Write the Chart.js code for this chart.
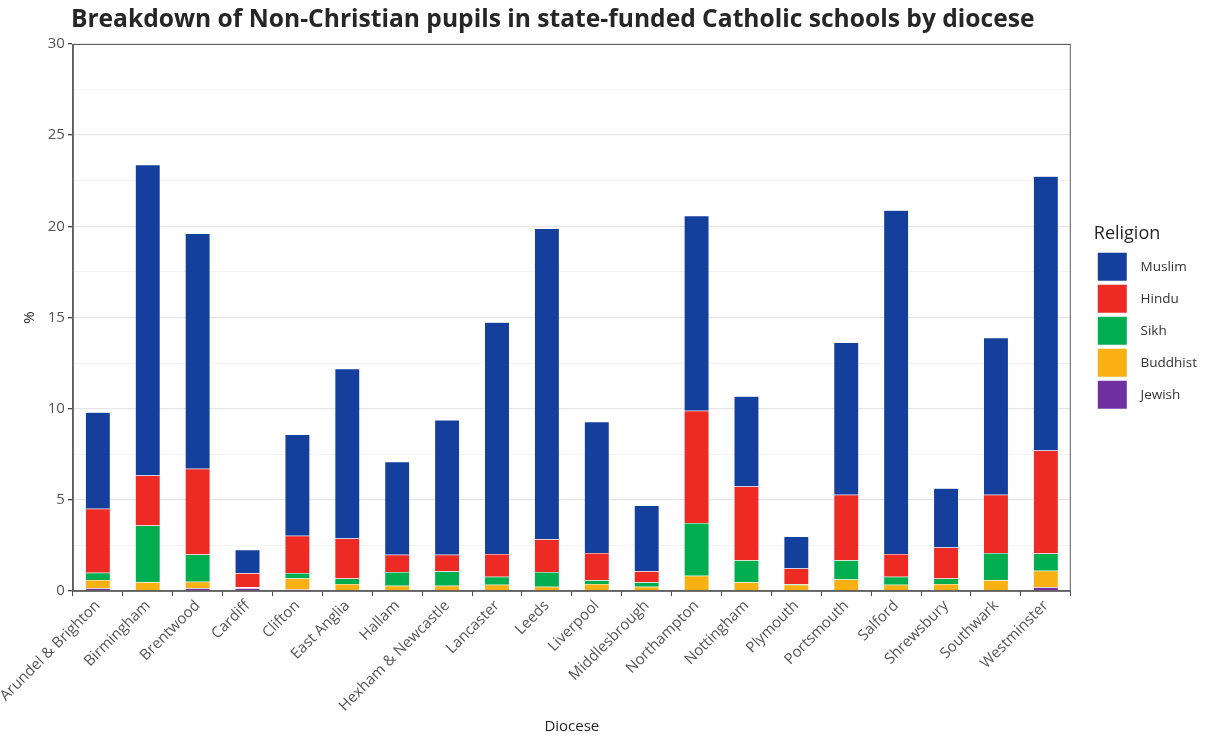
<!DOCTYPE html>
<html>
<head>
<meta charset="utf-8">
<script src="https://cdn.jsdelivr.net/npm/chart.js@4/dist/chart.umd.min.js"></script>
<style>
  html, body { margin: 0; padding: 0; background: #fff; }
  #wrap { width: 1207px; height: 738px; position: relative; }
</style>
</head>
<body>
<div id="wrap"><canvas id="chart"></canvas></div>
<script>
// Non-Christian pupils (%) in state-funded Catholic schools, by diocese
const dioceses = ['Arundel & Brighton', 'Birmingham', 'Brentwood', 'Cardiff', 'Clifton', 'East Anglia',
    'Hallam', 'Hexham & Newcastle', 'Lancaster', 'Leeds', 'Liverpool', 'Middlesbrough', 'Northampton',
    'Nottingham', 'Plymouth', 'Portsmouth', 'Salford', 'Shrewsbury', 'Southwark', 'Westminster'];

const muslim   = [5.3, 17.05, 12.9, 1.28, 5.55, 9.3, 5.1, 7.4, 12.7, 17.05, 7.2, 3.6, 10.7, 4.95, 1.75, 8.35, 18.85, 3.25, 8.6, 15.05];
const hindu    = [3.5, 2.75, 4.7, 0.77, 2.05, 2.2, 0.95, 0.9, 1.25, 1.8, 1.5, 0.6, 6.15, 4.05, 0.85, 3.6, 1.25, 1.7, 3.2, 5.65];
const sikh     = [0.4, 3.1, 1.5, 0.02, 0.3, 0.3, 0.75, 0.8, 0.45, 0.8, 0.2, 0.25, 2.9, 1.2, 0.05, 1.05, 0.45, 0.3, 1.5, 0.95];
const buddhist = [0.45, 0.45, 0.35, 0.03, 0.6, 0.35, 0.25, 0.25, 0.3, 0.2, 0.35, 0.2, 0.8, 0.45, 0.3, 0.6, 0.3, 0.35, 0.55, 0.9];
const jewish   = [0.15, 0.03, 0.15, 0.15, 0.08, 0.03, 0.03, 0.03, 0.03, 0.03, 0.03, 0.03, 0.03, 0.03, 0.03, 0.03, 0.03, 0.03, 0.03, 0.2];

const yTicks = [0, 5, 10, 15, 20, 25, 30];

const FONT = "'Open Sans', 'Noto Sans', sans-serif";

function ds(label, data, color) {
    return {
        label: label,
        data: data,
        backgroundColor: color,
        borderColor: 'rgba(255,255,255,0.35)',
        borderWidth: 0.5,
        barPercentage: 0.5,
        categoryPercentage: 1.0
    };
}

// ggplot style panel border + left aligned title
const panelPlugin = {
    id: 'panel',
    afterDatasetsDraw(chart) {
        const { ctx, chartArea } = chart;
        ctx.save();
        ctx.strokeStyle = '#5f5f5f';
        ctx.lineWidth = 1;
        ctx.strokeRect(chartArea.left + 0.5, chartArea.top + 0.5,
            chartArea.right - chartArea.left - 1, chartArea.bottom - chartArea.top);
        ctx.restore();
    },
    afterDraw(chart) {
        const { ctx, chartArea } = chart;
        ctx.save();
        ctx.fillStyle = '#262626';
        ctx.font = "bold 24.6px " + FONT;
        ctx.textBaseline = 'middle';
        ctx.fillText('Breakdown of Non-Christian pupils in state-funded Catholic schools by diocese', chartArea.left - 2, 20);
        ctx.restore();
    }
};

// give the legend a gap from the panel and lift it to mid-panel
const legendShift = {
    id: 'legendShift',
    afterInit(chart) {
        const lg = chart.legend;
        const fit = lg.fit;
        lg.fit = function () { fit.call(this); this.width += 13; };
        const draw = lg.draw;
        lg.draw = function () {
            const c = this.ctx;
            c.save();
            c.translate(23, -71);
            draw.call(this);
            c.restore();
        };
    }
};

const ctx = document.getElementById('chart').getContext('2d');
new Chart(ctx, {
    type: 'bar',
    data: {
        labels: dioceses,
        datasets: [
            ds('Jewish', jewish, '#7030A0'),
            ds('Buddhist', buddhist, '#F9B012'),
            ds('Sikh', sikh, '#00AE50'),
            ds('Hindu', hindu, '#EE2A24'),
            ds('Muslim', muslim, '#143F9D')
        ]
    },
    options: {
        responsive: true,
        maintainAspectRatio: false,
        animation: false,
        layout: { padding: { top: 44, right: 10, bottom: 2, left: 13 } },
        plugins: {
            title: { display: false },
            tooltip: { enabled: false },
            legend: {
                position: 'right',
                reverse: true,
                align: 'center',
                title: {
                    display: true,
                    text: 'Religion',
                    color: '#262626',
                    font: { family: FONT, size: 18 },
                    padding: { top: 0, bottom: 2 },
                    position: 'start'
                },
                labels: {
                    boxWidth: 29,
                    boxHeight: 28,
                    padding: 4,
                    color: '#333',
                    font: { family: FONT, size: 13.5 },
                    generateLabels(chart) {
                        const items = Chart.defaults.plugins.legend.labels.generateLabels(chart);
                        items.forEach(it => { it.text = '  ' + it.text; it.lineWidth = 0; });
                        return items;
                    }
                }
            }
        },
        scales: {
            x: {
                stacked: true,
                grid: { drawOnChartArea: false, color: '#444', tickColor: '#444', tickLength: 5 },
                border: { color: '#5f5f5f' },
                ticks: {
                    color: '#555',
                    font: { family: FONT, size: 15 },
                    maxRotation: 45,
                    minRotation: 45,
                    autoSkip: false,
                    padding: 1
                },
                title: {
                    display: true,
                    text: 'Diocese',
                    color: '#262626',
                    font: { family: FONT, size: 15 },
                    padding: { top: 2, bottom: 0 }
                }
            },
            y: {
                stacked: true,
                min: 0,
                max: 30,
                afterBuildTicks(axis) {
                    const t = [];
                    yTicks.forEach((v, i) => {
                        t.push({ value: v });
                        if (i < yTicks.length - 1) t.push({ value: (v + yTicks[i + 1]) / 2 });
                    });
                    axis.ticks = t;
                },
                grid: {
                    color: c => (yTicks.includes(c.tick.value) ? '#e6e6e6' : '#f3f3f3'),
                    tickColor: c => (yTicks.includes(c.tick.value) ? '#444' : 'rgba(0,0,0,0)'),
                    tickLength: 5,
                    lineWidth: c => (yTicks.includes(c.tick.value) ? 1.3 : 1)
                },
                border: { color: '#5f5f5f' },
                ticks: {
                    color: '#555',
                    font: { family: FONT, size: 15 },
                    padding: 3,
                    callback: v => (yTicks.includes(v) ? v : '')
                },
                title: {
                    display: true,
                    text: '%',
                    color: '#262626',
                    font: { family: FONT, size: 15 },
                    padding: { top: 0, bottom: 6 }
                }
            }
        }
    },
    plugins: [panelPlugin, legendShift]
});
</script>
</body>
</html>
